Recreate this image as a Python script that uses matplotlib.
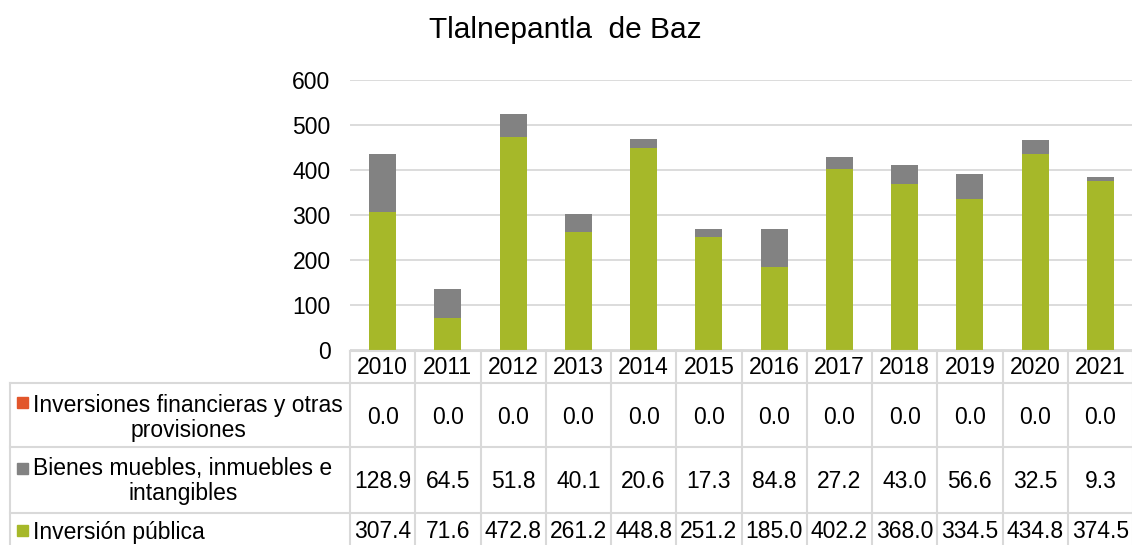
import matplotlib
matplotlib.use('Agg')
import matplotlib.pyplot as plt
import numpy as np

plt.rcParams['font.family'] = ['Liberation Sans', 'DejaVu Sans']

# datos
years = ['2010', '2011', '2012', '2013', '2014', '2015', '2016', '2017', '2018', '2019', '2020', '2021']
inv_fin = [0.0] * 12
bienes = [128.9, 64.5, 51.8, 40.1, 20.6, 17.3, 84.8, 27.2, 43.0, 56.6, 32.5, 9.3]
inv_pub = [307.4, 71.6, 472.8, 261.2, 448.8, 251.2, 185.0, 402.2, 368.0, 334.5, 434.8, 374.5]
labels = ['Inversiones financieras y otras\nprovisiones',
          'Bienes muebles, inmuebles e\nintangibles',
          'Inversión pública']
colors = ['#E2562B', '#828282', '#A6B829']
yticks = [0, 100, 200, 300, 400, 500, 600]

W, H = 1132, 545
fig = plt.figure(figsize=(W / 100, H / 100), dpi=100)

# area de grafica (pixeles)
x0, x1, y0, y1 = 350, 1133, 80, 350
ax = fig.add_axes([x0 / W, 1 - y1 / H, (x1 - x0) / W, (y1 - y0) / H])
x = np.arange(len(years))
bw = 0.41
ax.bar(x, inv_pub, bw, color=colors[2], zorder=3)
ax.bar(x, bienes, bw, bottom=inv_pub, color=colors[1], zorder=3)
ax.bar(x, inv_fin, bw, bottom=np.array(inv_pub) + np.array(bienes), color=colors[0], zorder=3)
ax.set_xlim(-0.5, len(years) - 0.5)
ax.set_ylim(0, 600)
ax.set_yticks(yticks)
ax.set_xticks([])
ax.grid(axis='y', color='#D9D9D9', lw=1.3, zorder=0)
for s in ax.spines.values():
    s.set_visible(False)
ax.tick_params(axis='y', length=0, pad=14, labelsize=16.5)

fig.text(565 / W, 1 - 30 / H, 'Tlalnepantla  de Baz', ha='center', va='center', fontsize=21.5)

# tabla de datos
tb = fig.add_axes([0, 0, 1, 1])
tb.set_xlim(0, W)
tb.set_ylim(H, 0)
tb.axis('off')
tb.patch.set_alpha(0)

cw = (x1 - x0) / len(years)
lc = '#D9D9D9'
lw = 1.5
row_y = [351, 383, 447, 513, 560]
# lineas horizontales
tb.plot([x0, x1], [row_y[0], row_y[0]], color=lc, lw=lw, clip_on=False)
for ry in row_y[1:4]:
    tb.plot([10, x1], [ry, ry], color=lc, lw=lw, clip_on=False)
# lineas verticales
for i in range(len(years) + 1):
    tb.plot([x0 + i * cw] * 2, [row_y[0], H + 5], color=lc, lw=lw, clip_on=False)
tb.plot([10, 10], [row_y[1], H + 5], color=lc, lw=lw, clip_on=False)

fs = 16.5
for i, yr in enumerate(years):
    cx = x0 + (i + 0.5) * cw
    tb.text(cx, 367, yr, ha='center', va='center', fontsize=fs)
    tb.text(cx, 418, f'{inv_fin[i]:.1f}', ha='center', va='center', fontsize=fs)
    tb.text(cx, 481, f'{bienes[i]:.1f}', ha='center', va='center', fontsize=fs)
    tb.text(cx, 532, f'{inv_pub[i]:.1f}', ha='center', va='center', fontsize=fs)

# etiquetas de series con su marca
tb.text(188, 418, labels[0], ha='center', va='center', fontsize=fs, multialignment='center', linespacing=1.1)
tb.add_patch(plt.Rectangle((17, 397), 11, 11, color=colors[0]))
tb.text(183, 481, labels[1], ha='center', va='center', fontsize=fs, multialignment='center', linespacing=1.1)
tb.add_patch(plt.Rectangle((17, 463), 11, 11, color=colors[1]))
tb.text(33, 532, labels[2], ha='left', va='center', fontsize=fs)
tb.add_patch(plt.Rectangle((17, 525), 11, 11, color=colors[2]))

fig.savefig('out.png', dpi=100)
